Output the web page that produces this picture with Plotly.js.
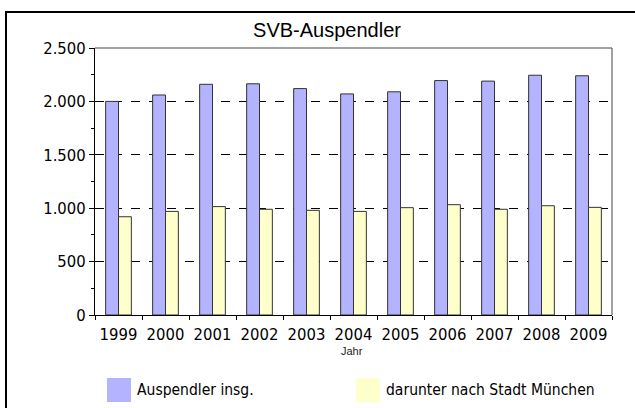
<!DOCTYPE html>
<html>
<head>
<meta charset="utf-8">
<script src="https://cdn.plot.ly/plotly-3.0.1.min.js"></script>
<style>html,body{margin:0;padding:0;background:#fff;}#chart{width:635px;height:408px;}</style>
</head>
<body>
<div id="chart"></div>
<script>
// ---- data ----
const years = ['1999','2000','2001','2002','2003','2004','2005','2006','2007','2008','2009'];
const auspendler = [2000, 2060, 2160, 2165, 2120, 2070, 2090, 2195, 2190, 2245, 2240];
const muenchen = [920, 970, 1015, 990, 980, 970, 1005, 1033, 990, 1023, 1008];
const seriesNames = ['Auspendler insg.', 'darunter nach Stadt München'];
const chartTitle = 'SVB-Auspendler';
const xTitle = 'Jahr';

// ---- layout geometry ----
const W = 635, H = 408;
const M = {l: 95, r: 23, t: 48, b: 93};
const PW = W - M.l - M.r, PH = H - M.t - M.b;
const px = x => (x - M.l) / PW;
const py = y => (H - M.b - y) / PH;

const narrow = "'DejaVu Sans Condensed', 'Liberation Sans Narrow', 'Arial Narrow', sans-serif";
const regular = "'Liberation Sans', Arial, sans-serif";
const colors = ['rgb(179,179,255)', 'rgb(255,255,204)'];

const traces = [
  {type: 'bar', x: years, y: auspendler, name: seriesNames[0],
   marker: {color: colors[0], line: {color: '#333', width: 1}}, hoverinfo: 'skip'},
  {type: 'bar', x: years, y: muenchen, name: seriesNames[1],
   marker: {color: colors[1], line: {color: '#333', width: 1}}, hoverinfo: 'skip'}
];

const shapes = [
  // outer frame (left + top)
  {type: 'path', xref: 'paper', yref: 'paper',
   path: `M ${px(6)} ${py(420)} L ${px(6)} ${py(12)} L ${px(640)} ${py(12)}`,
   line: {color: '#000', width: 2}},
  // plot frame top + right (gray)
  {type: 'path', xref: 'paper', yref: 'paper', layer: 'above',
   path: `M 0 1 L 1 1 L 1 0`, line: {color: '#444', width: 1}},
  // legend swatches
  {type: 'rect', xref: 'paper', yref: 'paper', x0: px(107), x1: px(131), y0: py(378), y1: py(402),
   fillcolor: colors[0], line: {width: 0}},
  {type: 'rect', xref: 'paper', yref: 'paper', x0: px(356), x1: px(380), y0: py(378), y1: py(402),
   fillcolor: colors[1], line: {width: 0}}
];

const annotations = [
  {text: xTitle, xref: 'paper', yref: 'paper', x: px(352), y: py(351), showarrow: false,
   font: {family: regular, size: 11, color: '#222'}, xanchor: 'center', yanchor: 'middle'},
  {text: seriesNames[0], xref: 'paper', yref: 'paper', x: px(135), y: py(390), showarrow: false,
   font: {family: narrow, size: 15.5, color: '#000'}, xanchor: 'left', yanchor: 'middle'},
  {text: seriesNames[1], xref: 'paper', yref: 'paper', x: px(384), y: py(390), showarrow: false,
   font: {family: narrow, size: 15.5, color: '#000'}, xanchor: 'left', yanchor: 'middle'}
];

const layout = {
  width: W, height: H,
  margin: M,
  paper_bgcolor: '#fff', plot_bgcolor: '#fff',
  separators: ',.',
  showlegend: false,
  barmode: 'group', bargap: 0.453, bargroupgap: 0,
  title: {text: chartTitle, font: {family: regular, size: 20, color: '#000'},
          xref: 'container', x: 327 / W, xanchor: 'center',
          yref: 'container', y: 1 - 30 / H, yanchor: 'middle'},
  xaxis: {type: 'category', categoryorder: 'array', categoryarray: years,
          range: [-0.5, years.length - 0.5], tickangle: 0, ticklabelstandoff: 4,
          showline: true, linecolor: '#000', linewidth: 1,
          ticks: 'outside', tickson: 'boundaries', ticklen: 4, tickcolor: '#000', tickwidth: 1,
          showgrid: false, zeroline: false,
          tickfont: {family: narrow, size: 16.5, color: '#000'}},
  xaxis2: {overlaying: 'x', anchor: 'y', side: 'bottom', type: 'linear',
           range: [-0.5, years.length - 0.5], tickmode: 'linear', tick0: -0.5, dtick: 1,
           ticks: 'inside', ticklen: 5, tickcolor: '#000', tickwidth: 1,
           showticklabels: false, showgrid: false, zeroline: false, showline: false},
  yaxis: {range: [0, 2500], dtick: 500, tickformat: ',',
          showline: true, linecolor: '#000', linewidth: 1,
          ticks: 'outside', ticklen: 5, tickcolor: '#000', tickwidth: 1,
          minor: {dtick: 250, ticks: 'outside', ticklen: 3, tickcolor: '#000', showgrid: false},
          showgrid: true, gridcolor: '#000', gridwidth: 1, griddash: 'dash',
          zeroline: false,
          tickfont: {family: narrow, size: 16.5, color: '#000'}},
  yaxis2: {overlaying: 'y', anchor: 'x', side: 'left', range: [0, 2500], dtick: 500,
           ticks: 'inside', ticklen: 5, tickcolor: '#000', tickwidth: 1,
           minor: {dtick: 250, ticks: 'inside', ticklen: 3, tickcolor: '#000', showgrid: false},
           showticklabels: false, showgrid: false, zeroline: false, showline: false},
  shapes: shapes,
  annotations: annotations
};

Plotly.newPlot('chart', traces, layout, {staticPlot: true, displayModeBar: false});
</script>
</body>
</html>
